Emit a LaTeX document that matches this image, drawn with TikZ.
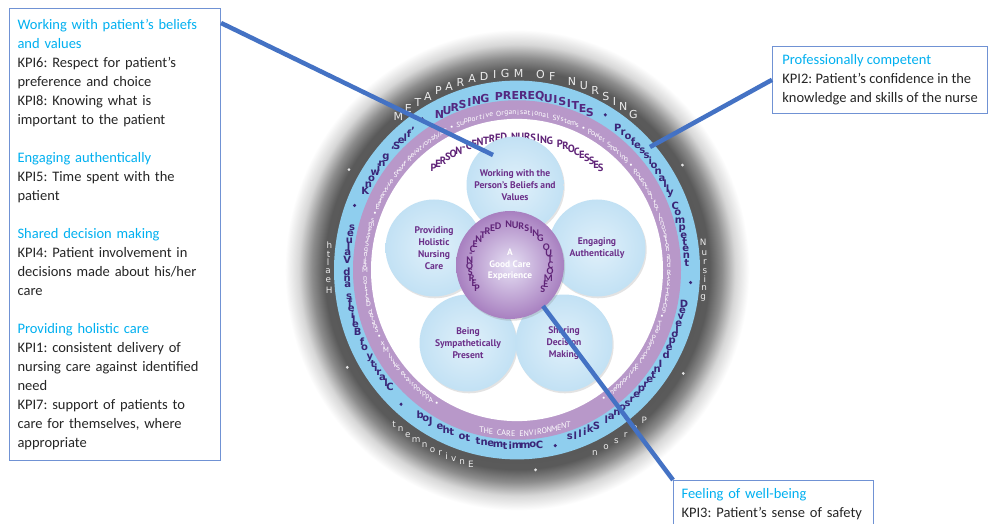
\documentclass[tikz,border=0pt]{standalone}
\usepackage{fontspec}
\setmainfont{Carlito}
\newfontfamily\ptsans{PT Sans}
\newfontfamily\djv{DejaVu Sans}
\usetikzlibrary{decorations.text,shadows,calc}
\frenchspacing

\definecolor{kpiblue}{RGB}{0,176,240}
\definecolor{boxline}{RGB}{112,146,212}
\definecolor{conn}{RGB}{68,114,196}
\definecolor{ringblue}{RGB}{143,206,238}
\definecolor{ringpurple}{RGB}{184,152,201}
\definecolor{petalin}{RGB}{224,240,250}
\definecolor{petalout}{RGB}{194,225,244}
\definecolor{petaltext}{RGB}{108,48,138}
\definecolor{ringtxt}{RGB}{58,38,120}
\definecolor{prereq}{RGB}{84,40,128}
\definecolor{proctext}{RGB}{96,36,120}
\definecolor{coreout}{RGB}{168,128,192}
\definecolor{corein}{RGB}{230,224,244}
\definecolor{gA}{RGB}{72,72,72}
\definecolor{gB}{RGB}{90,90,90}
\definecolor{gC}{RGB}{140,140,140}
\definecolor{gD}{RGB}{215,215,215}

\pgfdeclareradialshading{darkring}{\pgfpoint{0bp}{0bp}}{color(0bp)=(gA); color(20.4bp)=(gB); color(21.7bp)=(gC); color(23.1bp)=(gD); color(24.6bp)=(white); color(50bp)=(white)}

\newcommand\ringtext[5]{\path[decorate, decoration={text effects along path, text={#5}, text effects/.cd, fit text to path, characters={#1}}] (#3:#2) arc[start angle=#3, end angle=#4, radius=#2];}

\tikzset{
  kbox/.style={draw=boxline, line width=1.1pt, fill=white, inner xsep=8pt, inner ysep=8pt, align=left, font=\fontsize{14.5}{19}\selectfont, text=black!85},
  petal/.style={circle, minimum size=97pt, inner sep=0pt, shade, inner color=petalin, outer color=petalout, drop shadow={opacity=0.22, shadow xshift=1.2pt, shadow yshift=-1.8pt}, align=center, text=petaltext, font=\ptsans\bfseries\fontsize{9.6}{12}\selectfont},
  core/.style={circle, minimum size=108pt, inner sep=0pt, shade, inner color=corein, outer color=coreout, drop shadow={opacity=0.25, shadow xshift=1.2pt, shadow yshift=-1.8pt}, align=center, text=white, font=\ptsans\bfseries\fontsize{9.4}{11.5}\selectfont},
  connector/.style={draw=conn, line width=4.5pt},
  darkchr/.style={text=white!92!black, font=\djv\fontsize{11}{12}\selectfont},
  darkchr2/.style={text=white!92!black, font=\djv\fontsize{8.8}{10}\selectfont},
  prereqchr/.style={text=prereq, font=\djv\bfseries\fontsize{11}{12}\selectfont},
  ringchr/.style={text=ringtxt, font=\djv\bfseries\fontsize{10}{11}\selectfont},
  envchr/.style={text=white, font=\ptsans\fontsize{7.4}{8}\selectfont},
  carechr/.style={text=white, font=\ptsans\fontsize{8}{9}\selectfont},
  procchr/.style={text=proctext, font=\ptsans\bfseries\fontsize{10.5}{12}\selectfont},
  corechr/.style={text=proctext, font=\bfseries\fontsize{10.2}{11}\selectfont},
}

\begin{document}
\begin{tikzpicture}[x=1pt,y=1pt]
\useasboundingbox (0,0) rectangle (988,523);
\fill[white] (0,0) rectangle (988,523);

% ---------- rings ----------
\begin{scope}[shift={(517,253)}, yscale=1.035]
  \shade[shading=darkring] (0,0) circle[radius=236];
  \fill[ringblue] (0,0) circle[radius=183];
  \fill[ringpurple] (0,0) circle[radius=164];
  \fill[white] (0,0) circle[radius=146];
  % metaparadigm
  \ringtext{darkchr}{190}{131}{50}{METAPARADIGM OF NURSING}
  \ringtext{darkchr2}{189}{188}{171}{Health}
  \ringtext{darkchr2}{188}{10}{-10}{Nursing}
  \ringtext{darkchr2}{193}{258}{229}{Environment}
  \ringtext{darkchr2}{193}{-47}{-68}{Person}
  \foreach \a in {150,209,275.5,329,31.5} \fill[white!90!black] (\a:194) circle[radius=1.5];
  % prerequisites
  \ringtext{prereqchr}{169}{120}{62}{NURSING PREREQUISITES}
  \ringtext{ringchr}{170}{56}{0.5}{Professionally Competent}
  \ringtext{ringchr}{170}{-8.5}{-74}{Developed Interpersonal Skills}
  \ringtext{ringchr}{170}{-80}{-127}{Commitment to the Job}
  \ringtext{ringchr}{170}{224}{164}{Clarity of Beliefs and Values}
  \ringtext{ringchr}{170}{155.5}{126}{Knowing ‘Self’}
  \foreach \a in {123,59.5,-4,-77.3,-131.8,159} \fill[ringtxt] (\a:174) circle[radius=1.7];
  % care environment
  \ringtext{envchr}{152}{240}{-57}{• Appropriate Skill Mix • Shared Decision Making Systems • Effective Staff Relationships • Supportive Organisational Systems • Power Sharing • Potential for Innovation and Risk Taking • The Physical Environment •}
  \ringtext{carechr}{158}{-105}{-69}{THE CARE ENVIRONMENT}
  % processes
  \ringtext{procchr}{129}{133}{47}{PERSON-CENTRED NURSING PROCESSES}
\end{scope}

% ---------- flower ----------
\node[petal] (ptop) at (515,338) {Working with the\\Person’s Beliefs and\\Values};
\node[petal] (pright) at (597,275) {Engaging\\Authentically};
\node[petal] (pleft) at (434,275) {Providing\\Holistic\\Nursing\\Care};
\node[petal] (pbl) at (468,180) {Being\\Sympathetically\\Present};
\node[petal] (pbr) at (564,180) {Sharing\\Decision\\Making};
\node[core] (core) at (510,258) {A\\Good Care\\Experience};
\begin{scope}[shift={(core.center)}]
  \ringtext{corechr}{40.5}{224}{-44}{PERSON-CENTRED NURSING OUTCOMES}
\end{scope}

% ---------- KPI boxes ----------
\node[kbox, text width=195pt, minimum height=452pt, anchor=north west] (lbox) at (9,515) {%
\textcolor{kpiblue}{Working with patient’s beliefs}\\
\textcolor{kpiblue}{and values}\\
KPI6: Respect for patient’s\\
preference and choice\\
KPI8: Knowing what is\\
important to the patient\\[19pt]
\textcolor{kpiblue}{Engaging authentically}\\
KPI5: Time spent with the\\
patient\\[19pt]
\textcolor{kpiblue}{Shared decision making}\\
KPI4: Patient involvement in\\
decisions made about his/her\\
care\\[19pt]
\textcolor{kpiblue}{Providing holistic care}\\
KPI1: consistent delivery of\\
nursing care against identified\\
need\\
KPI7: support of patients to\\
care for themselves, where\\
appropriate};

\node[kbox, minimum width=215pt, anchor=north west] (rbox) at (772,477) {%
\textcolor{kpiblue}{Professionally competent}\\
KPI2: Patient’s confidence in the\\
knowledge and skills of the nurse};

\node[kbox, text width=184pt, anchor=north west] (bbox) at (673,43) {%
\textcolor{kpiblue}{Feeling of well-being}\\
KPI3: Patient’s sense of safety};

% ---------- connectors ----------
\coordinate (e1) at (493,368);
\coordinate (e2) at (650,376);
\coordinate (e3) at (543,217);
\draw[connector] ($(lbox.north east)+(0,-15)$) -- (e1);
\draw[connector] (rbox.west) -- (e2);
\draw[connector] (e3) -- (bbox.north west);
\end{tikzpicture}
\end{document}
